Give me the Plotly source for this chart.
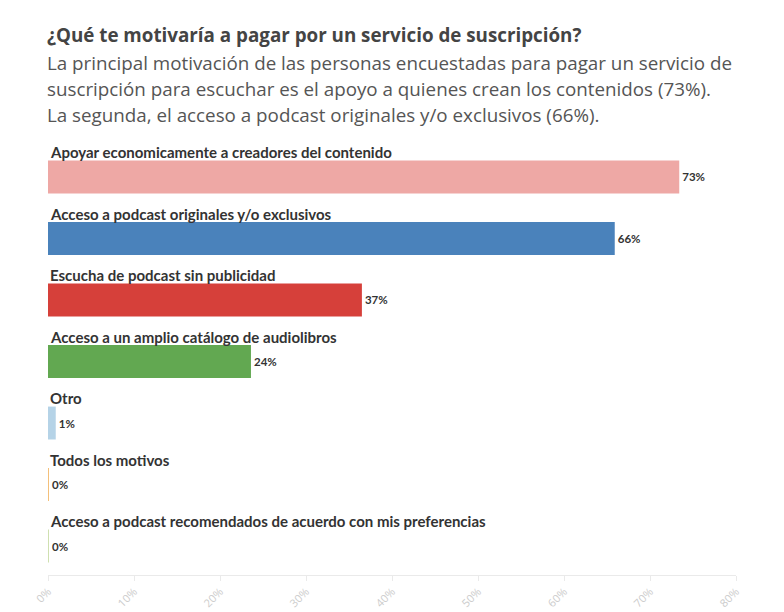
import plotly.graph_objects as go

categories = [
    "Apoyar economicamente a creadores del contenido",
    "Acceso a podcast originales y/o exclusivos",
    "Escucha de podcast sin publicidad",
    "Acceso a un amplio catálogo de audiolibros",
    "Otro",
    "Todos los motivos",
    "Acceso a podcast recomendados de acuerdo con mis preferencias",
]
values = [73.4, 65.9, 36.5, 23.6, 0.9, 0.1, 0.1]
value_labels = ["73%", "66%", "37%", "24%", "1%", "0%", "0%"]
colors = ["#eea8a5", "#4a82bb", "#d6403a", "#62a851", "#b5d3e7", "#f4c07a", "#cfe0b0"]
tick_vals = [0, 10, 20, 30, 40, 50, 60, 70, 80]
tick_text = ["0%", "10%", "20%", "30%", "40%", "50%", "60%", "70%", "80%"]

title = "¿Qué te motivaría a pagar por un servicio de suscripción?"
subtitle_lines = [
    "La principal motivación de las personas encuestadas para pagar un servicio de",
    "suscripción para escuchar es el apoyo a quienes crean los contenidos (73%).",
    "La segunda, el acceso a podcast originales y/o exclusivos (66%).",
]

# page body has an 8px margin, so the figure starts at (8, 8) on screen
OFF = 8
W, H = 784 - OFF, 612 - OFF
ML = 48 - OFF
MR = W - (736 - OFF)
MT = 140 - OFF
MB = H - (575 - OFF)

ypos = list(range(len(categories)))

fig = go.Figure()
fig.add_trace(go.Bar(
    x=values, y=ypos, orientation="h",
    marker=dict(color=colors, line=dict(width=0)),
    width=0.535,
    text=value_labels, textposition="outside",
    textfont=dict(family="Lato", size=11.5, color="#333333", weight="bold"),
    cliponaxis=False, hoverinfo="skip",
))

annotations = []
for i, c in enumerate(categories):
    annotations.append(dict(
        x=0, y=i - 0.40, xref="x", yref="y", text="<b>" + c + "</b>",
        showarrow=False, xanchor="left", yanchor="middle",
        font=dict(family="Lato", size=15, color="#333333"),
    ))

def py(screen_y):
    return (H - MB - (screen_y - OFF)) / (H - MT - MB)

def px(screen_x):
    return ((screen_x - OFF) - ML) / (W - ML - MR)

annotations.append(dict(
    x=px(45), y=py(35), xref="paper", yref="paper",
    text="<b>" + title + "</b>", showarrow=False, xanchor="left", yanchor="middle",
    font=dict(family="Open Sans", size=18.8, color="#444444"),
))
for j, line in enumerate(subtitle_lines):
    annotations.append(dict(
        x=px(45), y=py(63 + 26 * j), xref="paper", yref="paper",
        text=line, showarrow=False, xanchor="left", yanchor="middle",
        font=dict(family="Open Sans", size=18.8, color="#555555"),
    ))

fig.update_layout(
    width=W, height=H,
    margin=dict(l=ML, r=MR, t=MT, b=MB),
    paper_bgcolor="white", plot_bgcolor="white",
    showlegend=False,
    annotations=annotations,
    xaxis=dict(
        range=[0, 80], tickvals=tick_vals, ticktext=tick_text,
        tickangle=-45, tickfont=dict(family="Open Sans", size=11, color="#cccccc"),
        showgrid=False, zeroline=False, showline=True, linecolor="#eaeaea",
        ticks="outside", ticklen=5, tickcolor="#eaeaea", automargin=False,
        fixedrange=True,
    ),
    yaxis=dict(
        range=[6.47, -0.6], showticklabels=False, showgrid=False,
        zeroline=False, showline=False, automargin=False, fixedrange=True,
    ),
)

fig.write_html("out.html")
